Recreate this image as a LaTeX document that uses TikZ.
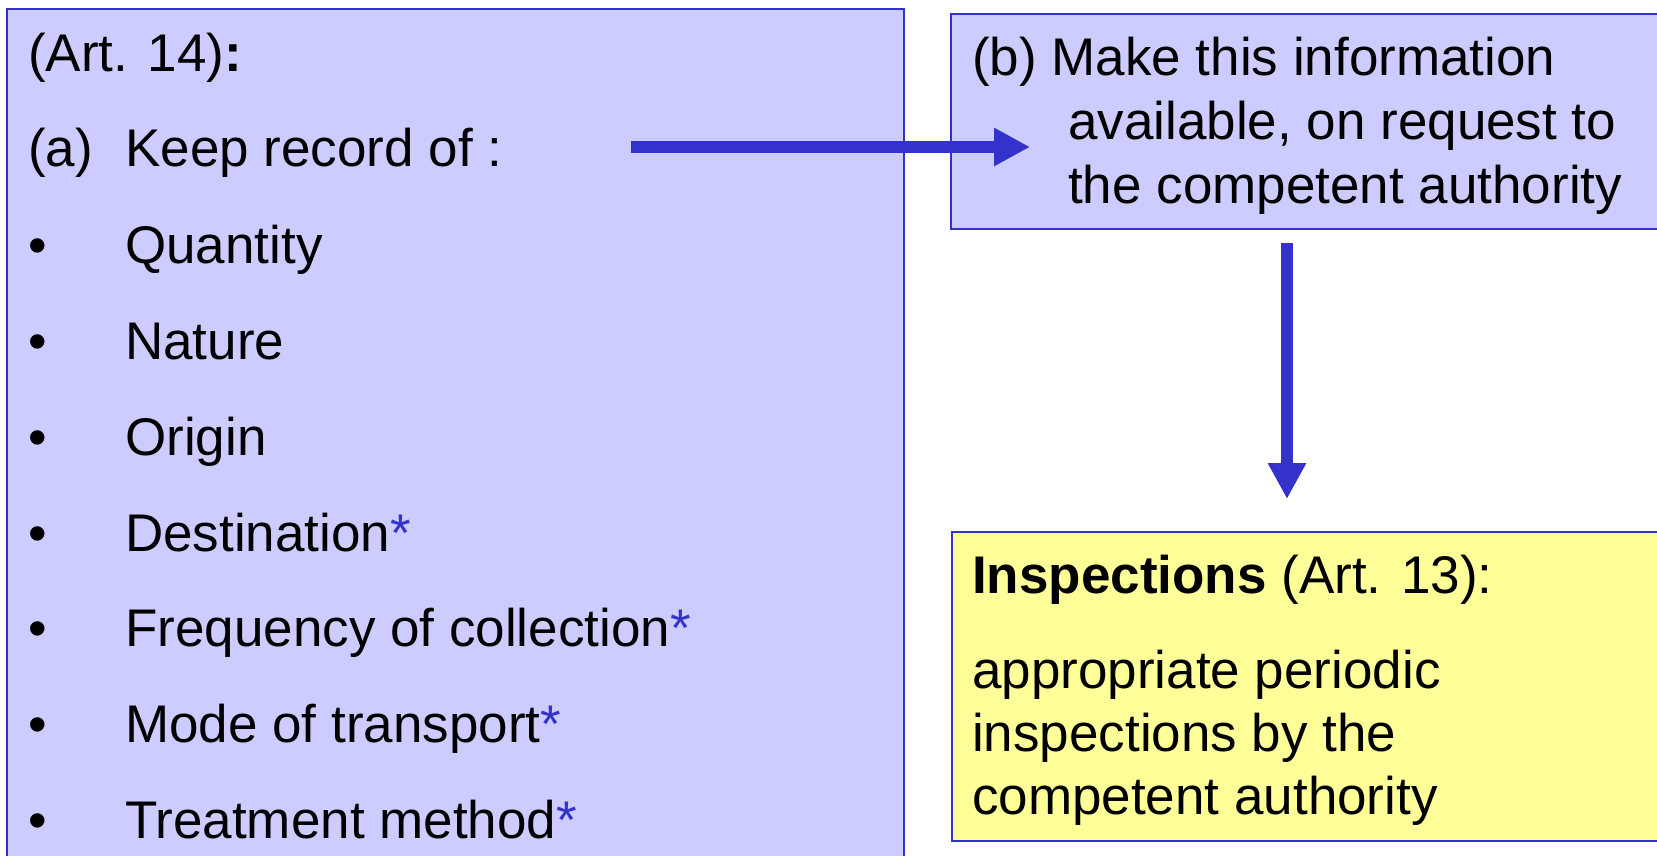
\documentclass[tikz,border=0pt]{standalone}
\usepackage{fontspec}
\setmainfont{Liberation Sans}
\usetikzlibrary{arrows.meta}
\definecolor{boxblue}{HTML}{CCCCFF}
\definecolor{edgeblue}{HTML}{3333CC}
\definecolor{boxyellow}{HTML}{FFFF99}
\begin{document}
\begin{tikzpicture}[x=1pt,y=-1pt,
  bluebox/.style={draw=edgeblue, line width=1.6pt, fill=boxblue, anchor=north west, inner sep=0pt},
  yellowbox/.style={draw=edgeblue, line width=1.6pt, fill=boxyellow, anchor=north west, inner sep=0pt},
  txt/.style={anchor=base west, inner sep=0pt, font=\fontsize{53}{64}\selectfont},
  conn/.style={draw=edgeblue, line width=12pt, -{Triangle[length=36pt,width=36pt]}}]
\useasboundingbox (0,0) rectangle (1657,856);
\clip (0,0) rectangle (1657,856);
\fill[white] (0,0) rectangle (1657,856);
% boxes
\node[bluebox, minimum width=897pt, minimum height=880pt] (L) at (6,8) {};
\node[bluebox, minimum width=730pt, minimum height=215pt] (R) at (950,13) {};
\node[yellowbox, minimum width=730pt, minimum height=309pt] (Y) at (951,531) {};
% left text
\node[txt] (t0) at (28,72) {(Art. 14)\textbf{:}};
\node[txt] (t1a) at (28,167) {(a)};
\node[txt] (t1) at (125,167) {Keep record of :};
\foreach \y/\n/\s [count=\i] in {263/Quantity/, 359/Nature/, 455/Origin/, 551/Destination/*, 646/Frequency of collection/*, 742/Mode of transport/*, 838/Treatment method/*}{
  \node[txt] (b\i) at (28,\y) {\textbullet};
  \node[txt] (i\i) at (125,\y) {\n\textcolor{edgeblue}{\s}};
}
% right text
\node[txt] (r1) at (972,76) {(b) Make this information};
\node[txt] (r2) at (1068,140) {available, on request to};
\node[txt] (r3) at (1068,203) {the competent authority};
% yellow text
\node[txt] (y1) at (972,593) {\textbf{Inspections} (Art. 13):};
\node[txt] (y2) at (972,688) {appropriate periodic};
\node[txt] (y3) at (972,751) {inspections by the};
\node[txt] (y4) at (972,814) {competent authority};
% connectors
\coordinate (h1) at (631,147);
\coordinate (h2) at (1030,147);
\coordinate (v1) at (1287,243);
\coordinate (v2) at (1287,499);
\draw[conn] (h1) -- (h2);
\draw[conn] (v1) -- (v2);
\end{tikzpicture}
\end{document}
